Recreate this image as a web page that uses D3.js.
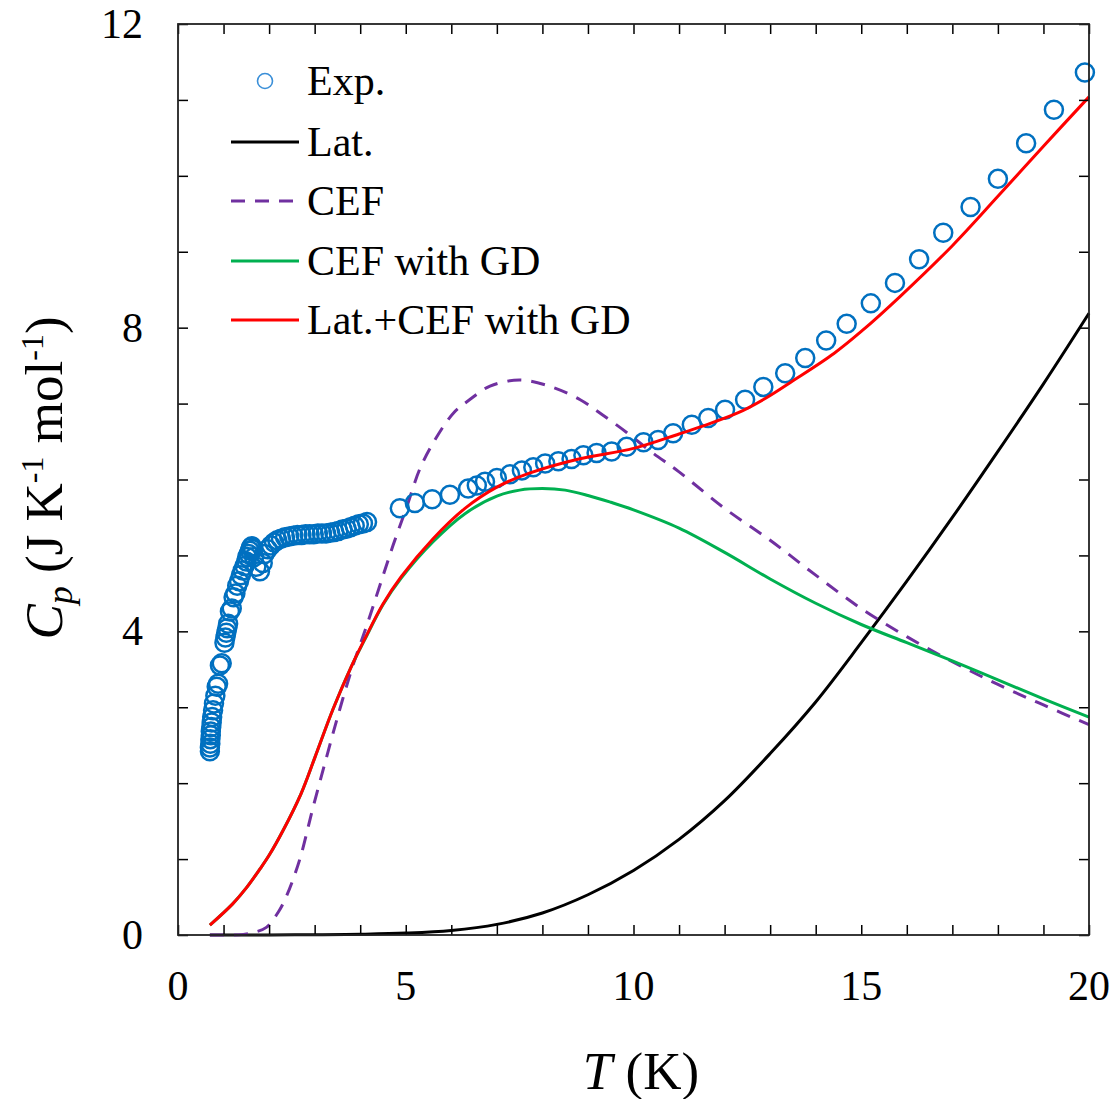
<!DOCTYPE html>
<html><head><meta charset="utf-8">
<script src="https://cdn.jsdelivr.net/npm/d3@7"></script>
<style>body{margin:0;background:#fff;} text{font-family:"Liberation Serif","Times New Roman",serif;}</style>
</head><body>
<svg id="chart" width="1119" height="1099"></svg>
<script>
// ---- data ----
const expT = [0.70,0.70,0.71,0.71,0.72,0.72,0.73,0.74,0.75,0.77,0.79,0.82,0.85,0.88,0.92,0.96,1.02,1.04,1.06,1.08,1.10,1.14,1.18,1.22,1.26,1.30,1.34,1.38,1.42,1.46,1.50,1.52,1.55,1.58,1.60,1.62,1.65,1.67,1.72,1.80,1.86,
  1.90,1.97,2.04,2.11,2.18,2.26,2.35,2.44,2.53,2.62,2.71,2.80,2.89,2.98,3.07,3.16,3.25,3.34,3.43,3.52,3.61,3.70,3.79,3.88,3.97,4.06,4.15,
  4.87,5.20,5.58,5.97,6.37,6.56,6.74,7.00,7.29,7.55,7.80,8.06,8.35,8.64,8.90,9.19,9.52,9.85,10.22,10.54,10.87,11.28,11.64,12.01,12.45,12.85,13.33,13.77,14.23,14.68,15.21,15.74,16.27,16.80,17.40,18.00,18.62,19.23,19.91];
const expCp = [2.42,2.47,2.52,2.58,2.63,2.68,2.74,2.80,2.87,2.96,3.05,3.15,3.27,3.31,3.55,3.58,3.85,3.92,3.98,4.04,4.10,4.26,4.30,4.45,4.50,4.60,4.66,4.74,4.80,4.86,4.92,4.98,5.02,5.06,5.10,5.12,5.08,4.98,4.85,4.79,4.90,
  5.02,5.08,5.13,5.17,5.20,5.22,5.24,5.25,5.26,5.27,5.27,5.28,5.28,5.28,5.29,5.29,5.29,5.30,5.31,5.32,5.34,5.35,5.37,5.39,5.41,5.42,5.44,
  5.62,5.69,5.74,5.80,5.88,5.92,5.97,6.02,6.07,6.12,6.16,6.21,6.24,6.27,6.32,6.35,6.37,6.43,6.49,6.52,6.61,6.72,6.81,6.92,7.05,7.22,7.40,7.60,7.83,8.05,8.32,8.59,8.90,9.25,9.59,9.96,10.43,10.87,11.36];

const latT  = [0.7,1,2,3,4,5,6,7,8,9,10,11,12,13,14,15,16,17,18,19,20];
const latCp = [0,0,0.001,0.003,0.01,0.025,0.06,0.14,0.29,0.53,0.85,1.26,1.77,2.39,3.07,3.85,4.66,5.50,6.37,7.26,8.19];

const cefT  = [0.7,1.0,1.4,1.7,1.94,2.2,2.38,2.67,2.96,3.26,3.55,3.84,4.14,4.43,4.72,5.01,5.31,5.6,6.04,6.4,6.85,7.5,8.2,8.83,9.3,9.85,10.4,11,12,13,14,15,16,17,18,19,20];
const cefCp = [0,0,0.005,0.04,0.10,0.30,0.51,0.99,1.67,2.34,2.97,3.55,4.07,4.60,5.13,5.62,6.14,6.48,6.87,7.05,7.23,7.31,7.22,7.05,6.86,6.62,6.36,6.10,5.62,5.20,4.74,4.30,3.93,3.60,3.30,3.03,2.77];

const gdT  = [0.7,1.2,1.5,1.8,2.0,2.3,2.7,3.0,3.4,3.8,4.1,4.5,4.9,5.6,6.3,7.0,7.5,8.0,8.5,9.0,9.5,10,11,12,13,14,15,16,17,18,19,20];
const gdCp = [0.13,0.41,0.62,0.87,1.05,1.37,1.86,2.33,2.97,3.53,3.89,4.35,4.70,5.18,5.55,5.78,5.86,5.88,5.86,5.79,5.70,5.60,5.36,5.04,4.69,4.37,4.09,3.85,3.61,3.36,3.11,2.87];

const totT  = [0.7,1.2,1.5,1.8,2.0,2.3,2.7,3.0,3.4,3.8,4.1,4.5,4.9,5.6,6.3,7.0,7.7,8.8,10,11,11.5,12.3,12.9,13.5,14.4,15.0,15.85,17,18,19,20];
const totCp = [0.13,0.41,0.62,0.87,1.05,1.37,1.86,2.33,2.97,3.53,3.90,4.36,4.72,5.22,5.62,5.90,6.08,6.27,6.41,6.60,6.70,6.88,7.07,7.30,7.66,7.95,8.41,9.08,9.73,10.39,11.04];

const xTicks = [0,5,10,15,20];
const yTicks = [0,4,8,12];
const legendLabels = ["Exp.","Lat.","CEF","CEF with GD","Lat.+CEF with GD"];

// ---- chart ----
const svg = d3.select("#chart");
const L=178, R=1089, T=24, B=935;
const x = d3.scaleLinear().domain([0,20]).range([L,R]);
const y = d3.scaleLinear().domain([0,12]).range([B,T]);
const g = svg.append("g");

const zip = (a,b)=>a.map((v,i)=>[v,b[i]]);
const line = d3.line().x(d=>x(d[0])).y(d=>y(d[1])).curve(d3.curveCatmullRom.alpha(0.5));
const blue="#0070c0", purple="#7030a0", green="#00b050", red="#ff0000";

g.append("path").datum(zip(latT,latCp)).attr("d",line).attr("fill","none").attr("stroke","#000").attr("stroke-width",3);
g.append("path").datum(zip(cefT,cefCp)).attr("d",line).attr("fill","none").attr("stroke",purple).attr("stroke-width",3).attr("stroke-dasharray","14,10");
g.append("path").datum(zip(gdT,gdCp)).attr("d",line).attr("fill","none").attr("stroke",green).attr("stroke-width",3);

g.selectAll("circle.exp").data(zip(expT,expCp)).enter().append("circle").attr("class","exp")
  .attr("cx",d=>x(d[0])).attr("cy",d=>y(d[1])).attr("r",9).attr("fill","none").attr("stroke",blue).attr("stroke-width",2.5);

g.append("path").datum(zip(totT,totCp)).attr("d",line).attr("fill","none").attr("stroke",red).attr("stroke-width",3);

// axes (ticks inward, all sides)
const tickStyle = sel => { sel.select(".domain").remove(); sel.selectAll(".tick line").attr("stroke","#000").attr("stroke-width",1.5); sel.selectAll("text").remove(); };
svg.append("g").attr("transform",`translate(0,${B})`).call(d3.axisBottom(x).ticks(20).tickSize(-10)).call(tickStyle);
svg.append("g").attr("transform",`translate(0,${T})`).call(d3.axisTop(x).ticks(20).tickSize(-10)).call(tickStyle);
svg.append("g").attr("transform",`translate(${L},0)`).call(d3.axisLeft(y).ticks(12).tickSize(-10)).call(tickStyle);
svg.append("g").attr("transform",`translate(${R},0)`).call(d3.axisRight(y).ticks(12).tickSize(-10)).call(tickStyle);
svg.append("rect").attr("x",L).attr("y",T).attr("width",R-L).attr("height",B-T).attr("fill","none").attr("stroke","#222").attr("stroke-width",1.8);

// tick labels
svg.selectAll("text.xt").data(xTicks).enter().append("text").attr("class","xt")
  .attr("x",d=>x(d)).attr("y",1000).attr("text-anchor","middle").attr("font-size",42).text(d=>d);
svg.selectAll("text.yt").data(yTicks).enter().append("text").attr("class","yt")
  .attr("x",143).attr("y",d=>y(d)+14).attr("text-anchor","end").attr("font-size",42).text(d=>d);

// axis titles
const xt = svg.append("text").attr("x",641).attr("y",1089).attr("text-anchor","middle").attr("font-size",53);
xt.append("tspan").attr("font-style","italic").text("T");
xt.append("tspan").text(" (K)");

const yt = svg.append("text").attr("transform","translate(62,478) rotate(-90)").attr("text-anchor","middle").attr("font-size",53);
yt.append("tspan").attr("font-style","italic").text("C");
yt.append("tspan").attr("font-style","italic").attr("font-size",36).attr("dy",10).text("p");
yt.append("tspan").attr("dy",-10).text(" (J K");
yt.append("tspan").attr("font-size",32).attr("dy",-19).text("-1");
yt.append("tspan").attr("dy",19).text(" mol");
yt.append("tspan").attr("font-size",32).attr("dy",-19).text("-1");
yt.append("tspan").attr("dy",19).text(")");

// legend
const legY = [81,142,201,261,320];
const lg = svg.append("g");
lg.append("circle").attr("cx",265).attr("cy",legY[0]).attr("r",7.5).attr("fill","none").attr("stroke","#3a8fd8").attr("stroke-width",1.6);
const legStyles = [null,["#000",null],[purple,"14,10"],[green,null],[red,null]];
legStyles.forEach((s,i)=>{ if(!s) return;
  lg.append("line").attr("x1",231).attr("x2",299).attr("y1",legY[i]).attr("y2",legY[i]).attr("stroke",s[0]).attr("stroke-width",3).attr("stroke-dasharray",s[1]);
});
lg.selectAll("text").data(legendLabels).enter().append("text").attr("x",307).attr("y",(d,i)=>legY[i]+14).attr("font-size",42).text(d=>d);
</script>
</body></html>
